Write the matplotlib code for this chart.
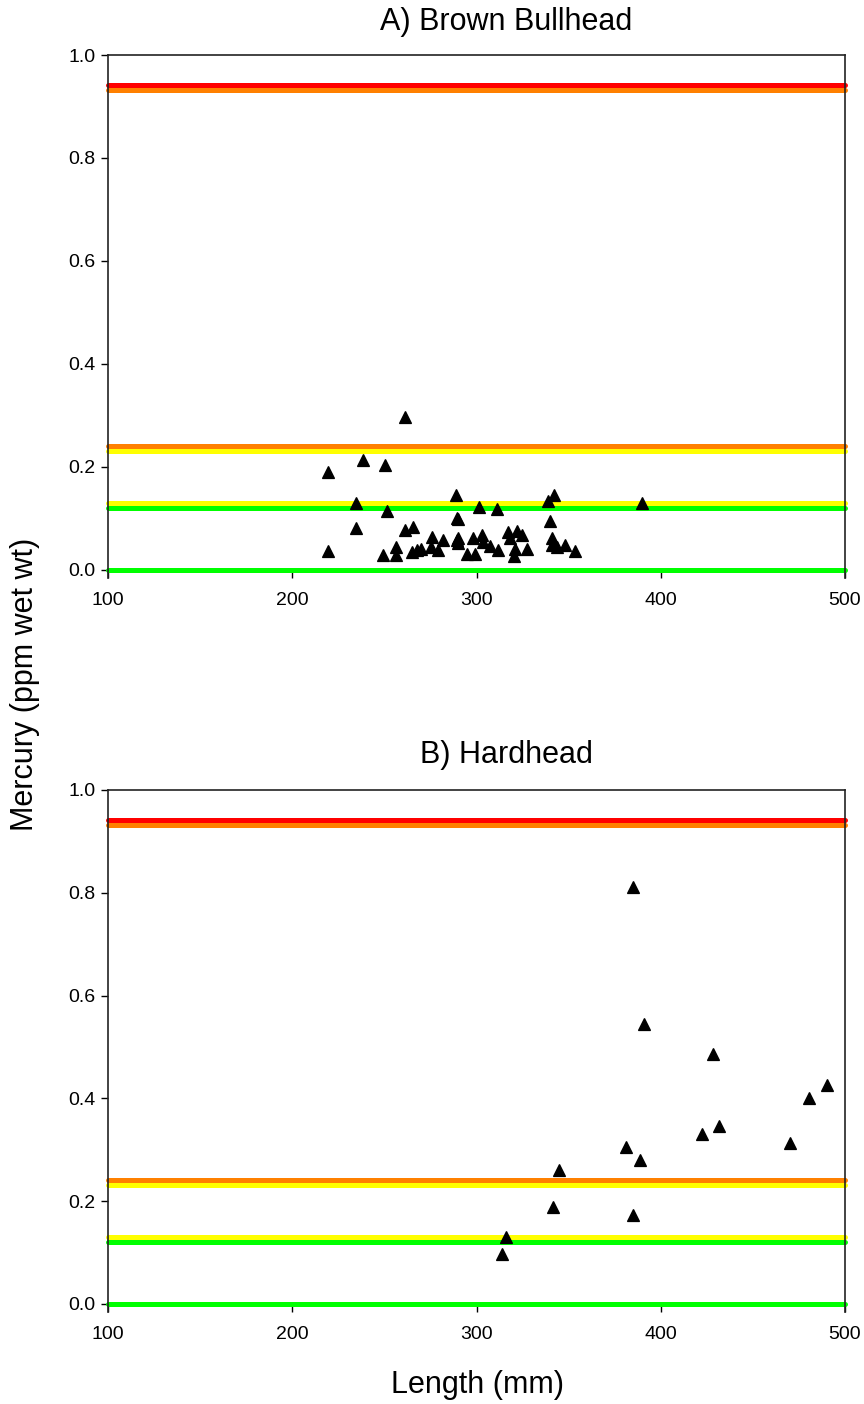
import matplotlib
matplotlib.use("Agg")
import matplotlib.pyplot as plt

plt.rcParams['font.family'] = ['Liberation Sans', 'DejaVu Sans']

# Panel A: Brown Bullhead
bullhead_length = [219.6, 219.6, 234.6, 234.6, 238.6, 250.5, 251.6, 249.4, 256.3, 256.3,
                   261.4, 261.4, 265.7, 264.8, 267.5, 269.7, 275.6, 275.1, 279.3, 281.6,
                   288.9, 289.2, 289.2, 290.1, 290.1, 290.1, 295.0, 297.9, 299.2, 301.4,
                   302.8, 303.7, 307.3, 311.1, 311.8, 317.3, 318.2, 320.4, 320.9, 321.8,
                   324.5, 327.2, 339.0, 339.9, 340.8, 340.8, 342.2, 343.5, 348.0, 353.5,
                   389.6]
bullhead_hg = [0.190, 0.037, 0.130, 0.082, 0.214, 0.203, 0.115, 0.029, 0.045, 0.029,
               0.297, 0.078, 0.084, 0.034, 0.038, 0.041, 0.064, 0.044, 0.038, 0.058,
               0.146, 0.100, 0.058, 0.099, 0.062, 0.052, 0.031, 0.063, 0.031, 0.123,
               0.068, 0.055, 0.047, 0.118, 0.039, 0.073, 0.062, 0.027, 0.040, 0.076,
               0.068, 0.040, 0.134, 0.096, 0.062, 0.049, 0.146, 0.044, 0.049, 0.037,
               0.131]

# Panel B: Hardhead
hardhead_length = [384.7, 390.8, 428.5, 490.2, 480.3, 431.6, 422.6, 470.3, 381.0, 388.7,
                   344.8, 341.5, 384.7, 316.0, 313.8]
hardhead_hg = [0.811, 0.545, 0.486, 0.427, 0.401, 0.347, 0.330, 0.313, 0.305, 0.281,
               0.261, 0.188, 0.173, 0.130, 0.097]

# Threshold lines (level, colour)
threshold_levels = [0.942, 0.932, 0.241, 0.231, 0.131, 0.121, 0.0]
threshold_colors = ['#ff0000', '#ff8000', '#ff8000', '#ffff00', '#ffff00', '#00ff00', '#00ff00']

titles = ['A) Brown Bullhead', 'B) Hardhead']
yticks = [0.0, 0.2, 0.4, 0.6, 0.8, 1.0]
xticks = [100, 200, 300, 400, 500]

W, H = 864, 1404
fig = plt.figure(figsize=(W / 100, H / 100), dpi=100)

axes_px = [(55, 578), (790, 1312)]
left_px, right_px = 108, 845
datasets = [(bullhead_length, bullhead_hg), (hardhead_length, hardhead_hg)]
title_y = [22, 755]

for i, ((top, bot), (xs, ys)) in enumerate(zip(axes_px, datasets)):
    ax = fig.add_axes([left_px / W, 1 - bot / H, (right_px - left_px) / W, (bot - top) / H])
    for lvl, col in zip(threshold_levels, threshold_colors):
        ax.plot([100, 500], [lvl, lvl], color=col, lw=3.6, solid_capstyle='round', zorder=2,
                clip_on=False)
    ax.plot(xs, ys, linestyle='none', marker='^', markersize=8.8, color='black',
            markeredgecolor='black', markeredgewidth=0.9, zorder=3)
    ax.set_xlim(100, 500)
    ax.set_ylim(-0.0156, 1.0)
    ax.set_xticks(xticks)
    ax.set_yticks(yticks)
    ax.set_yticklabels([f'{v:.1f}' for v in yticks])
    ax.spines['bottom'].set_visible(False)
    for s in ['left', 'right', 'top']:
        ax.spines[s].set_color('#222222')
        ax.spines[s].set_linewidth(1.2)
    ax.tick_params(axis='x', direction='in', length=5, width=1, labelsize=14, pad=10)
    ax.tick_params(axis='y', direction='out', length=5, width=1, labelsize=14, pad=4)
    fig.text(506 / W, 1 - title_y[i] / H, titles[i], ha='center', va='center', fontsize=22)

fig.text(25 / W, 1 - 684 / H, 'Mercury (ppm wet wt)', rotation=90, ha='center', va='center',
         fontsize=22)
fig.text(477 / W, 1 - 1385 / H, 'Length (mm)', ha='center', va='center', fontsize=22)

fig.savefig('out.png', dpi=100)
